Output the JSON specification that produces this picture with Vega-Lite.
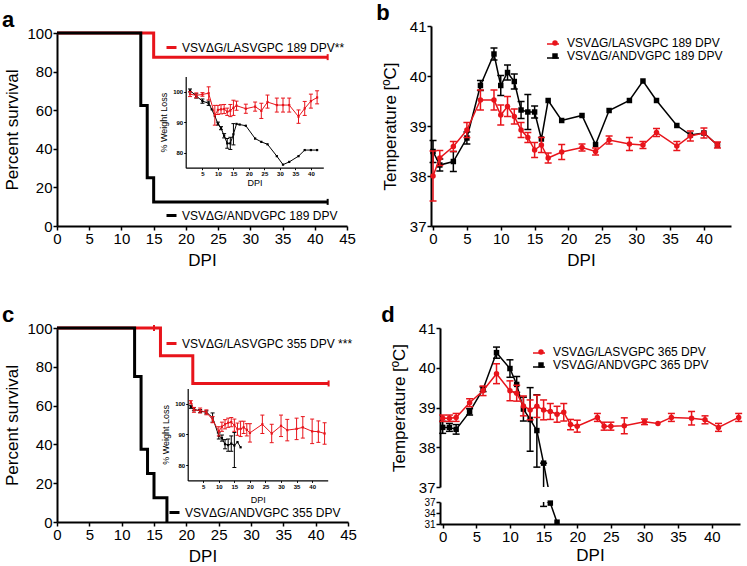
{
  "$schema": "https://vega.github.io/schema/vega-lite/v6.json",
  "padding": {"left": 1, "top": 2, "right": 0, "bottom": 0},
  "background": "white",
  "config": {
    "font": "Liberation Sans",
    "view": {"stroke": null},
    "axis": {"grid": false, "domainColor": "black", "domainWidth": 2, "tickColor": "black", "tickWidth": 1.5, "tickSize": 4, "labelColor": "black", "titleColor": "black", "labelFontSize": 15, "titleFontSize": 17, "titleFontWeight": "normal", "labelFont": "Liberation Sans", "titleFont": "Liberation Sans", "labelPadding": 1, "labelFlush": false, "labelOverlap": false},
    "title": {"font": "Liberation Sans", "fontSize": 22, "fontWeight": "bold", "color": "black", "anchor": "start", "frame": "bounds"},
    "legend": {"labelFont": "Liberation Sans", "labelFontSize": 12, "labelColor": "black", "labelLimit": 0}
  },
  "datasets": {
    "survA": [
      {"virus": "LAS", "series": "VSVΔG/LASVGPC 189 DPV**", "day": 0, "pct": 100},
      {"virus": "LAS", "series": "VSVΔG/LASVGPC 189 DPV**", "day": 15, "pct": 87.5},
      {"virus": "LAS", "series": "VSVΔG/LASVGPC 189 DPV**", "day": 42, "pct": 87.5},
      {"virus": "AND", "series": "VSVΔG/ANDVGPC 189 DPV", "day": 0, "pct": 100},
      {"virus": "AND", "series": "VSVΔG/ANDVGPC 189 DPV", "day": 13, "pct": 62.5},
      {"virus": "AND", "series": "VSVΔG/ANDVGPC 189 DPV", "day": 14, "pct": 25},
      {"virus": "AND", "series": "VSVΔG/ANDVGPC 189 DPV", "day": 15, "pct": 12.5},
      {"virus": "AND", "series": "VSVΔG/ANDVGPC 189 DPV", "day": 42, "pct": 12.5}
    ],
    "censA": [
      {"virus": "LAS", "day": 42, "pct": 87.5},
      {"virus": "AND", "day": 42, "pct": 12.5}
    ],
    "survC": [
      {"virus": "LAS", "series": "VSVΔG/LASVGPC 355 DPV ***", "day": 0, "pct": 100},
      {"virus": "LAS", "series": "VSVΔG/LASVGPC 355 DPV ***", "day": 16, "pct": 85.7},
      {"virus": "LAS", "series": "VSVΔG/LASVGPC 355 DPV ***", "day": 21, "pct": 71.4},
      {"virus": "LAS", "series": "VSVΔG/LASVGPC 355 DPV ***", "day": 42, "pct": 71.4},
      {"virus": "AND", "series": "VSVΔG/ANDVGPC 355 DPV", "day": 0, "pct": 100},
      {"virus": "AND", "series": "VSVΔG/ANDVGPC 355 DPV", "day": 12, "pct": 75},
      {"virus": "AND", "series": "VSVΔG/ANDVGPC 355 DPV", "day": 13, "pct": 37.5},
      {"virus": "AND", "series": "VSVΔG/ANDVGPC 355 DPV", "day": 14, "pct": 25},
      {"virus": "AND", "series": "VSVΔG/ANDVGPC 355 DPV", "day": 15, "pct": 12.5},
      {"virus": "AND", "series": "VSVΔG/ANDVGPC 355 DPV", "day": 17, "pct": 0}
    ],
    "censC": [
      {"virus": "LAS", "day": 15, "pct": 100},
      {"virus": "LAS", "day": 42, "pct": 71.4}
    ],
    "wA": [
      {"virus": "AND", "day": 1, "wl": 100.4, "lo": 99.9, "hi": 100.9},
      {"virus": "AND", "day": 3, "wl": 98.6, "lo": 97.9, "hi": 99.3},
      {"virus": "AND", "day": 5, "wl": 96.9, "lo": 96.2, "hi": 97.6},
      {"virus": "AND", "day": 7, "wl": 96.2, "lo": 95.5, "hi": 96.9},
      {"virus": "AND", "day": 8, "wl": 94.2},
      {"virus": "AND", "day": 9, "wl": 92},
      {"virus": "AND", "day": 10, "wl": 89.5, "lo": 89, "hi": 90},
      {"virus": "AND", "day": 11, "wl": 88, "lo": 87.5, "hi": 88.5},
      {"virus": "AND", "day": 12, "wl": 85.5, "lo": 84.8, "hi": 86.2},
      {"virus": "AND", "day": 13, "wl": 83, "lo": 81.4, "hi": 84.6},
      {"virus": "AND", "day": 14, "wl": 83, "lo": 81, "hi": 85},
      {"virus": "AND", "day": 15, "wl": 86, "lo": 82.5, "hi": 89.5},
      {"virus": "AND", "day": 16, "wl": 89.4},
      {"virus": "AND", "day": 17, "wl": 89.2},
      {"virus": "AND", "day": 19, "wl": 88.8},
      {"virus": "AND", "day": 22, "wl": 84.6},
      {"virus": "AND", "day": 24, "wl": 83.5},
      {"virus": "AND", "day": 26, "wl": 82.7},
      {"virus": "AND", "day": 29, "wl": 78.8},
      {"virus": "AND", "day": 31, "wl": 76},
      {"virus": "AND", "day": 33, "wl": 76.9},
      {"virus": "AND", "day": 36, "wl": 78.8},
      {"virus": "AND", "day": 38, "wl": 80.8},
      {"virus": "AND", "day": 40, "wl": 80.8},
      {"virus": "AND", "day": 42, "wl": 80.8},
      {"virus": "LAS", "day": 1, "wl": 99.2, "lo": 98.4, "hi": 100},
      {"virus": "LAS", "day": 3, "wl": 98.8, "lo": 98, "hi": 99.6},
      {"virus": "LAS", "day": 5, "wl": 99.1, "lo": 98.5, "hi": 99.7},
      {"virus": "LAS", "day": 7, "wl": 99.5, "lo": 97.3, "hi": 101.6},
      {"virus": "LAS", "day": 9, "wl": 92.3, "lo": 89, "hi": 95.5},
      {"virus": "LAS", "day": 10, "wl": 94, "lo": 92.5, "hi": 95.5},
      {"virus": "LAS", "day": 11, "wl": 94.2, "lo": 92.7, "hi": 95.7},
      {"virus": "LAS", "day": 12, "wl": 94.3, "lo": 92.8, "hi": 95.8},
      {"virus": "LAS", "day": 13, "wl": 93.4, "lo": 92.2, "hi": 94.6},
      {"virus": "LAS", "day": 14, "wl": 93.8, "lo": 91.8, "hi": 95.8},
      {"virus": "LAS", "day": 15, "wl": 94.7, "lo": 92.2, "hi": 97.2},
      {"virus": "LAS", "day": 16, "wl": 95.4, "lo": 93.9, "hi": 96.9},
      {"virus": "LAS", "day": 19, "wl": 94.4, "lo": 92.9, "hi": 95.9},
      {"virus": "LAS", "day": 22, "wl": 95.1, "lo": 93.6, "hi": 96.6},
      {"virus": "LAS", "day": 24, "wl": 93.7, "lo": 91.2, "hi": 96.2},
      {"virus": "LAS", "day": 26, "wl": 96.6, "lo": 94.6, "hi": 98.9},
      {"virus": "LAS", "day": 29, "wl": 95.6, "lo": 93.3, "hi": 97.9},
      {"virus": "LAS", "day": 31, "wl": 95.6, "lo": 93.3, "hi": 97.9},
      {"virus": "LAS", "day": 33, "wl": 95.6, "lo": 93.3, "hi": 97.9},
      {"virus": "LAS", "day": 36, "wl": 91.8, "lo": 89.6, "hi": 94},
      {"virus": "LAS", "day": 38, "wl": 94.5, "lo": 92.2, "hi": 96.8},
      {"virus": "LAS", "day": 40, "wl": 96.9, "lo": 94.6, "hi": 99.2},
      {"virus": "LAS", "day": 42, "wl": 98.1, "lo": 96, "hi": 100.3}
    ],
    "wC": [
      {"virus": "AND", "day": 1, "wl": 99, "lo": 98.5, "hi": 99.5},
      {"virus": "AND", "day": 2, "wl": 98.2, "lo": 97.7, "hi": 98.7},
      {"virus": "AND", "day": 4, "wl": 97.6, "lo": 97.1, "hi": 98.1},
      {"virus": "AND", "day": 6, "wl": 97.2, "lo": 96.7, "hi": 97.7},
      {"virus": "AND", "day": 8, "wl": 95.5, "lo": 94, "hi": 97},
      {"virus": "AND", "day": 10, "wl": 89.5, "lo": 88.5, "hi": 90.5},
      {"virus": "AND", "day": 11, "wl": 88.8, "lo": 87.8, "hi": 89.8},
      {"virus": "AND", "day": 12, "wl": 86.8, "lo": 85.3, "hi": 88.3},
      {"virus": "AND", "day": 13, "wl": 86.5, "lo": 84.5, "hi": 88.5},
      {"virus": "AND", "day": 14, "wl": 87, "lo": 84.5, "hi": 89.5},
      {"virus": "AND", "day": 15, "wl": 86.4, "lo": 79.2, "hi": 90.6},
      {"virus": "AND", "day": 16, "wl": 87.5},
      {"virus": "AND", "day": 17, "wl": 85.8},
      {"virus": "LAS", "day": 1, "wl": 100.5, "lo": 100, "hi": 101},
      {"virus": "LAS", "day": 2, "wl": 98, "lo": 97.2, "hi": 98.8},
      {"virus": "LAS", "day": 4, "wl": 97.8, "lo": 97, "hi": 98.6},
      {"virus": "LAS", "day": 6, "wl": 97.2, "lo": 96.4, "hi": 98},
      {"virus": "LAS", "day": 8, "wl": 94.8, "lo": 93.8, "hi": 95.8},
      {"virus": "LAS", "day": 10, "wl": 91, "lo": 89.5, "hi": 92.5},
      {"virus": "LAS", "day": 11, "wl": 92.5, "lo": 91, "hi": 94},
      {"virus": "LAS", "day": 12, "wl": 93.3, "lo": 91.8, "hi": 94.8},
      {"virus": "LAS", "day": 13, "wl": 93.8, "lo": 92.3, "hi": 95.3},
      {"virus": "LAS", "day": 14, "wl": 94, "lo": 92.5, "hi": 95.5},
      {"virus": "LAS", "day": 15, "wl": 93, "lo": 91, "hi": 95},
      {"virus": "LAS", "day": 16, "wl": 91.7, "lo": 89.7, "hi": 93.7},
      {"virus": "LAS", "day": 17, "wl": 91.8, "lo": 89.3, "hi": 94.3},
      {"virus": "LAS", "day": 18, "wl": 92.3, "lo": 90.3, "hi": 94.3},
      {"virus": "LAS", "day": 19, "wl": 91.5, "lo": 89.5, "hi": 93.5},
      {"virus": "LAS", "day": 20, "wl": 90.5, "lo": 87.5, "hi": 93.5},
      {"virus": "LAS", "day": 24, "wl": 93.3, "lo": 90.3, "hi": 96.3},
      {"virus": "LAS", "day": 27, "wl": 90.3, "lo": 87.3, "hi": 93.3},
      {"virus": "LAS", "day": 30, "wl": 92.8, "lo": 89.3, "hi": 96.3},
      {"virus": "LAS", "day": 32, "wl": 91.4, "lo": 87.9, "hi": 94.9},
      {"virus": "LAS", "day": 35, "wl": 91.8, "lo": 88.3, "hi": 95.3},
      {"virus": "LAS", "day": 37, "wl": 92.3, "lo": 88.8, "hi": 95.8},
      {"virus": "LAS", "day": 40, "wl": 91, "lo": 87, "hi": 95},
      {"virus": "LAS", "day": 42, "wl": 90.9, "lo": 87.4, "hi": 94.4},
      {"virus": "LAS", "day": 44, "wl": 90.3, "lo": 86.8, "hi": 93.8}
    ],
    "tB": [
      {"virus": "AND", "series": "VSVΔG/ANDVGPC 189 DPV", "day": 0, "t": 38.49, "lo": 38.27, "hi": 38.71},
      {"virus": "AND", "series": "VSVΔG/ANDVGPC 189 DPV", "day": 1, "t": 38.22, "lo": 38.1, "hi": 38.34},
      {"virus": "AND", "series": "VSVΔG/ANDVGPC 189 DPV", "day": 3, "t": 38.29, "lo": 38.09, "hi": 38.49},
      {"virus": "AND", "series": "VSVΔG/ANDVGPC 189 DPV", "day": 5, "t": 38.76, "lo": 38.64, "hi": 38.88},
      {"virus": "AND", "series": "VSVΔG/ANDVGPC 189 DPV", "day": 7, "t": 39.81, "lo": 39.71, "hi": 39.91},
      {"virus": "AND", "series": "VSVΔG/ANDVGPC 189 DPV", "day": 9, "t": 40.44, "lo": 40.32, "hi": 40.56},
      {"virus": "AND", "series": "VSVΔG/ANDVGPC 189 DPV", "day": 10, "t": 39.81, "lo": 39.61, "hi": 40.01},
      {"virus": "AND", "series": "VSVΔG/ANDVGPC 189 DPV", "day": 11, "t": 40.07, "lo": 39.92, "hi": 40.22},
      {"virus": "AND", "series": "VSVΔG/ANDVGPC 189 DPV", "day": 12, "t": 39.89, "lo": 39.74, "hi": 40.04},
      {"virus": "AND", "series": "VSVΔG/ANDVGPC 189 DPV", "day": 13, "t": 39.32, "lo": 39.15, "hi": 39.49},
      {"virus": "AND", "series": "VSVΔG/ANDVGPC 189 DPV", "day": 14, "t": 39.28, "lo": 38.93, "hi": 39.63},
      {"virus": "AND", "series": "VSVΔG/ANDVGPC 189 DPV", "day": 15, "t": 39.28, "lo": 39.16, "hi": 39.4},
      {"virus": "AND", "series": "VSVΔG/ANDVGPC 189 DPV", "day": 16, "t": 38.74},
      {"virus": "AND", "series": "VSVΔG/ANDVGPC 189 DPV", "day": 17, "t": 39.51},
      {"virus": "AND", "series": "VSVΔG/ANDVGPC 189 DPV", "day": 19, "t": 39.11},
      {"virus": "AND", "series": "VSVΔG/ANDVGPC 189 DPV", "day": 22, "t": 39.21},
      {"virus": "AND", "series": "VSVΔG/ANDVGPC 189 DPV", "day": 24, "t": 38.63},
      {"virus": "AND", "series": "VSVΔG/ANDVGPC 189 DPV", "day": 26, "t": 39.31},
      {"virus": "AND", "series": "VSVΔG/ANDVGPC 189 DPV", "day": 29, "t": 39.51},
      {"virus": "AND", "series": "VSVΔG/ANDVGPC 189 DPV", "day": 31, "t": 39.9},
      {"virus": "AND", "series": "VSVΔG/ANDVGPC 189 DPV", "day": 33, "t": 39.51},
      {"virus": "AND", "series": "VSVΔG/ANDVGPC 189 DPV", "day": 36, "t": 39.01},
      {"virus": "AND", "series": "VSVΔG/ANDVGPC 189 DPV", "day": 38, "t": 38.82},
      {"virus": "AND", "series": "VSVΔG/ANDVGPC 189 DPV", "day": 40, "t": 38.86},
      {"virus": "AND", "series": "VSVΔG/ANDVGPC 189 DPV", "day": 42, "t": 38.62},
      {"virus": "LAS", "series": "VSVΔG/LASVGPC 189 DPV", "day": 0, "t": 38.0, "lo": 37.5, "hi": 38.5},
      {"virus": "LAS", "series": "VSVΔG/LASVGPC 189 DPV", "day": 1, "t": 38.36, "lo": 38.21, "hi": 38.51},
      {"virus": "LAS", "series": "VSVΔG/LASVGPC 189 DPV", "day": 3, "t": 38.59, "lo": 38.49, "hi": 38.69},
      {"virus": "LAS", "series": "VSVΔG/LASVGPC 189 DPV", "day": 5, "t": 38.92, "lo": 38.77, "hi": 39.07},
      {"virus": "LAS", "series": "VSVΔG/LASVGPC 189 DPV", "day": 7, "t": 39.52, "lo": 39.32, "hi": 39.72},
      {"virus": "LAS", "series": "VSVΔG/LASVGPC 189 DPV", "day": 9, "t": 39.52, "lo": 39.32, "hi": 39.72},
      {"virus": "LAS", "series": "VSVΔG/LASVGPC 189 DPV", "day": 10, "t": 39.22, "lo": 39.02, "hi": 39.42},
      {"virus": "LAS", "series": "VSVΔG/LASVGPC 189 DPV", "day": 11, "t": 39.39, "lo": 39.19, "hi": 39.59},
      {"virus": "LAS", "series": "VSVΔG/LASVGPC 189 DPV", "day": 12, "t": 39.19, "lo": 39.04, "hi": 39.34},
      {"virus": "LAS", "series": "VSVΔG/LASVGPC 189 DPV", "day": 13, "t": 38.92, "lo": 38.77, "hi": 39.07},
      {"virus": "LAS", "series": "VSVΔG/LASVGPC 189 DPV", "day": 14, "t": 38.77, "lo": 38.67, "hi": 38.87},
      {"virus": "LAS", "series": "VSVΔG/LASVGPC 189 DPV", "day": 15, "t": 38.52, "lo": 38.37, "hi": 38.67},
      {"virus": "LAS", "series": "VSVΔG/LASVGPC 189 DPV", "day": 16, "t": 38.62, "lo": 38.47, "hi": 38.77},
      {"virus": "LAS", "series": "VSVΔG/LASVGPC 189 DPV", "day": 17, "t": 38.36, "lo": 38.26, "hi": 38.46},
      {"virus": "LAS", "series": "VSVΔG/LASVGPC 189 DPV", "day": 19, "t": 38.48, "lo": 38.33, "hi": 38.63},
      {"virus": "LAS", "series": "VSVΔG/LASVGPC 189 DPV", "day": 22, "t": 38.57, "lo": 38.5, "hi": 38.64},
      {"virus": "LAS", "series": "VSVΔG/LASVGPC 189 DPV", "day": 24, "t": 38.49, "lo": 38.42, "hi": 38.56},
      {"virus": "LAS", "series": "VSVΔG/LASVGPC 189 DPV", "day": 26, "t": 38.72, "lo": 38.64, "hi": 38.8},
      {"virus": "LAS", "series": "VSVΔG/LASVGPC 189 DPV", "day": 29, "t": 38.64, "lo": 38.51, "hi": 38.77},
      {"virus": "LAS", "series": "VSVΔG/LASVGPC 189 DPV", "day": 31, "t": 38.62, "lo": 38.55, "hi": 38.69},
      {"virus": "LAS", "series": "VSVΔG/LASVGPC 189 DPV", "day": 33, "t": 38.87, "lo": 38.79, "hi": 38.95},
      {"virus": "LAS", "series": "VSVΔG/LASVGPC 189 DPV", "day": 36, "t": 38.6, "lo": 38.51, "hi": 38.69},
      {"virus": "LAS", "series": "VSVΔG/LASVGPC 189 DPV", "day": 38, "t": 38.8, "lo": 38.7, "hi": 38.9},
      {"virus": "LAS", "series": "VSVΔG/LASVGPC 189 DPV", "day": 40, "t": 38.86, "lo": 38.76, "hi": 38.96},
      {"virus": "LAS", "series": "VSVΔG/LASVGPC 189 DPV", "day": 42, "t": 38.62, "lo": 38.56, "hi": 38.68}
    ],
    "tD": [
      {"virus": "AND", "series": "VSVΔG/ANDVGPC 365 DPV", "day": 0, "t": 38.5, "lo": 38.35, "hi": 38.65},
      {"virus": "AND", "series": "VSVΔG/ANDVGPC 365 DPV", "day": 1, "t": 38.5, "lo": 38.4, "hi": 38.6},
      {"virus": "AND", "series": "VSVΔG/ANDVGPC 365 DPV", "day": 2, "t": 38.45, "lo": 38.33, "hi": 38.57},
      {"virus": "AND", "series": "VSVΔG/ANDVGPC 365 DPV", "day": 4, "t": 38.89, "lo": 38.81, "hi": 38.97},
      {"virus": "AND", "series": "VSVΔG/ANDVGPC 365 DPV", "day": 6, "t": 39.46, "lo": 39.4, "hi": 39.52},
      {"virus": "AND", "series": "VSVΔG/ANDVGPC 365 DPV", "day": 8, "t": 40.38, "lo": 40.24, "hi": 40.52},
      {"virus": "AND", "series": "VSVΔG/ANDVGPC 365 DPV", "day": 10, "t": 39.98, "lo": 39.76, "hi": 40.2},
      {"virus": "AND", "series": "VSVΔG/ANDVGPC 365 DPV", "day": 11, "t": 39.58, "lo": 39.38, "hi": 39.78},
      {"virus": "AND", "series": "VSVΔG/ANDVGPC 365 DPV", "day": 12, "t": 38.96, "lo": 38.66, "hi": 39.26},
      {"virus": "AND", "series": "VSVΔG/ANDVGPC 365 DPV", "day": 13, "t": 38.7, "lo": 37.9, "hi": 39.5},
      {"virus": "AND", "series": "VSVΔG/ANDVGPC 365 DPV", "day": 14, "t": 38.42, "lo": 37.5, "hi": 39.32},
      {"virus": "AND", "series": "VSVΔG/ANDVGPC 365 DPV", "day": 15, "t": 37.6, "lo": 35.8, "hi": 37.6},
      {"virus": "AND", "series": "VSVΔG/ANDVGPC 365 DPV", "day": 16, "t": 36.7},
      {"virus": "AND", "series": "VSVΔG/ANDVGPC 365 DPV", "day": 17, "t": 31.5},
      {"virus": "LAS", "series": "VSVΔG/LASVGPC 365 DPV", "day": 0, "t": 38.73, "lo": 38.65, "hi": 38.81},
      {"virus": "LAS", "series": "VSVΔG/LASVGPC 365 DPV", "day": 1, "t": 38.73, "lo": 38.65, "hi": 38.81},
      {"virus": "LAS", "series": "VSVΔG/LASVGPC 365 DPV", "day": 2, "t": 38.75, "lo": 38.65, "hi": 38.85},
      {"virus": "LAS", "series": "VSVΔG/LASVGPC 365 DPV", "day": 4, "t": 39.12, "lo": 39.02, "hi": 39.22},
      {"virus": "LAS", "series": "VSVΔG/LASVGPC 365 DPV", "day": 6, "t": 39.42, "lo": 39.3, "hi": 39.54},
      {"virus": "LAS", "series": "VSVΔG/LASVGPC 365 DPV", "day": 8, "t": 39.85, "lo": 39.6, "hi": 40.1},
      {"virus": "LAS", "series": "VSVΔG/LASVGPC 365 DPV", "day": 10, "t": 39.42, "lo": 39.17, "hi": 39.67},
      {"virus": "LAS", "series": "VSVΔG/LASVGPC 365 DPV", "day": 11, "t": 39.36, "lo": 39.16, "hi": 39.56},
      {"virus": "LAS", "series": "VSVΔG/LASVGPC 365 DPV", "day": 12, "t": 39.04, "lo": 38.79, "hi": 39.29},
      {"virus": "LAS", "series": "VSVΔG/LASVGPC 365 DPV", "day": 13, "t": 38.94, "lo": 38.69, "hi": 39.19},
      {"virus": "LAS", "series": "VSVΔG/LASVGPC 365 DPV", "day": 14, "t": 39.03, "lo": 38.75, "hi": 39.31},
      {"virus": "LAS", "series": "VSVΔG/LASVGPC 365 DPV", "day": 15, "t": 38.94, "lo": 38.69, "hi": 39.19},
      {"virus": "LAS", "series": "VSVΔG/LASVGPC 365 DPV", "day": 16, "t": 38.9, "lo": 38.7, "hi": 39.1},
      {"virus": "LAS", "series": "VSVΔG/LASVGPC 365 DPV", "day": 17, "t": 38.83, "lo": 38.63, "hi": 39.03},
      {"virus": "LAS", "series": "VSVΔG/LASVGPC 365 DPV", "day": 18, "t": 38.88, "lo": 38.66, "hi": 39.1},
      {"virus": "LAS", "series": "VSVΔG/LASVGPC 365 DPV", "day": 19, "t": 38.57, "lo": 38.44, "hi": 38.7},
      {"virus": "LAS", "series": "VSVΔG/LASVGPC 365 DPV", "day": 20, "t": 38.53, "lo": 38.38, "hi": 38.68},
      {"virus": "LAS", "series": "VSVΔG/LASVGPC 365 DPV", "day": 23, "t": 38.75, "lo": 38.65, "hi": 38.85},
      {"virus": "LAS", "series": "VSVΔG/LASVGPC 365 DPV", "day": 24, "t": 38.53, "lo": 38.43, "hi": 38.63},
      {"virus": "LAS", "series": "VSVΔG/LASVGPC 365 DPV", "day": 25, "t": 38.53, "lo": 38.43, "hi": 38.63},
      {"virus": "LAS", "series": "VSVΔG/LASVGPC 365 DPV", "day": 27, "t": 38.54, "lo": 38.34, "hi": 38.74},
      {"virus": "LAS", "series": "VSVΔG/LASVGPC 365 DPV", "day": 30, "t": 38.64, "lo": 38.57, "hi": 38.71},
      {"virus": "LAS", "series": "VSVΔG/LASVGPC 365 DPV", "day": 32, "t": 38.6},
      {"virus": "LAS", "series": "VSVΔG/LASVGPC 365 DPV", "day": 34, "t": 38.75, "lo": 38.65, "hi": 38.85},
      {"virus": "LAS", "series": "VSVΔG/LASVGPC 365 DPV", "day": 37, "t": 38.73, "lo": 38.56, "hi": 38.9},
      {"virus": "LAS", "series": "VSVΔG/LASVGPC 365 DPV", "day": 39, "t": 38.69, "lo": 38.59, "hi": 38.79},
      {"virus": "LAS", "series": "VSVΔG/LASVGPC 365 DPV", "day": 41, "t": 38.5, "lo": 38.4, "hi": 38.6},
      {"virus": "LAS", "series": "VSVΔG/LASVGPC 365 DPV", "day": 44, "t": 38.75, "lo": 38.65, "hi": 38.85}
    ]
  },
  "spacing": 36,
  "resolve": {"scale": {"color": "independent", "stroke": "independent", "shape": "independent"}, "legend": {"color": "independent", "stroke": "independent", "shape": "independent"}},
  "vconcat": [
    {
      "hconcat": [
        {
          "width": 290, "height": 200,
          "title": {"text": "a", "offset": -6, "dx": -2},
          "resolve": {"scale": {"x": "independent", "y": "independent"}},
          "layer": [
            {
              "data": {"name": "survA"},
              "encoding": {
                "x": {"field": "day", "type": "quantitative", "scale": {"domain": [0, 45], "nice": false, "zero": false}, "axis": {"values": [0, 5, 10, 15, 20, 25, 30, 35, 40, 45], "title": "DPI", "titlePadding": 6}},
                "y": {"field": "pct", "type": "quantitative", "scale": {"domain": [0, 100], "range": [200, 7], "nice": false}, "axis": {"values": [0, 20, 40, 60, 80, 100], "title": "Percent survival", "titlePadding": 5}}
              },
              "layer": [
                {"transform": [{"filter": "datum.virus == 'LAS'"}], "mark": {"type": "line", "interpolate": "step-after", "strokeWidth": 3},
                 "encoding": {"color": {"field": "series", "type": "nominal", "scale": {"range": ["#e8141b"]},
                   "legend": {"orient": "none", "legendX": 108, "legendY": 15, "title": null, "symbolType": "stroke", "symbolSize": 100, "symbolStrokeWidth": 3, "labelOffset": 4}}}},
                {"transform": [{"filter": "datum.virus == 'AND'"}], "mark": {"type": "line", "interpolate": "step-after", "strokeWidth": 3},
                 "encoding": {"stroke": {"field": "series", "type": "nominal", "scale": {"range": ["black"]},
                   "legend": {"orient": "none", "legendX": 108, "legendY": 183, "title": null, "symbolType": "stroke", "symbolSize": 100, "symbolStrokeWidth": 3, "labelOffset": 4}}}},
                {"data": {"name": "censA"}, "mark": {"type": "tick", "orient": "vertical", "size": 6, "thickness": 2, "opacity": 1},
                 "encoding": {"color": {"condition": {"test": "datum.virus == 'LAS'", "value": "#e8141b"}, "value": "black"}}}
              ]
            },
            {
              "data": {"name": "wA"},
              "encoding": {
                "x": {"field": "day", "type": "quantitative", "scale": {"domain": [-0.4, 44], "range": [128.7, 266.3], "nice": false, "zero": false},
                  "axis": {"orient": "bottom", "offset": -58.3, "values": [5, 10, 15, 20, 25, 30, 35, 40], "title": "DPI", "titleFontSize": 9, "titlePadding": 2, "labelFontSize": 6, "labelFontWeight": "bold", "tickSize": 2, "tickWidth": 1, "domainWidth": 1.2, "labelPadding": 1}},
                "y": {"field": "wl", "type": "quantitative", "title": "% Weight Loss", "scale": {"domain": [75, 105], "range": [141.7, 50.5], "nice": false, "zero": false},
                  "axis": {"orient": "left", "offset": -128.7, "values": [80, 90, 100], "title": "% Weight Loss", "titleFontSize": 9, "titlePadding": 4, "labelFontSize": 6, "labelFontWeight": "bold", "tickSize": 2, "tickWidth": 1, "domainWidth": 1.2, "labelPadding": 1}}
              },
              "layer": [
                {"transform": [{"filter": "datum.virus == 'AND'"}], "mark": {"type": "line", "strokeWidth": 1, "color": "black"}, "encoding": {}},
                {"transform": [{"filter": "datum.virus == 'AND' && isValid(datum.lo)"}], "mark": {"type": "rule", "strokeWidth": 1, "color": "black"},
                 "encoding": {"y": {"field": "lo", "type": "quantitative", "title": "% Weight Loss", "scale": {"domain": [75, 105], "range": [141.7, 50.5], "nice": false, "zero": false}}, "y2": {"field": "hi"}}},
                {"transform": [{"filter": "datum.virus == 'AND' && isValid(datum.lo)"}], "mark": {"type": "tick", "orient": "horizontal", "size": 4, "thickness": 1, "color": "black", "opacity": 1},
                 "encoding": {"y": {"field": "lo", "type": "quantitative", "title": "% Weight Loss", "scale": {"domain": [75, 105], "range": [141.7, 50.5], "nice": false, "zero": false}}}},
                {"transform": [{"filter": "datum.virus == 'AND' && isValid(datum.lo)"}], "mark": {"type": "tick", "orient": "horizontal", "size": 4, "thickness": 1, "color": "black", "opacity": 1},
                 "encoding": {"y": {"field": "hi", "type": "quantitative", "title": "% Weight Loss", "scale": {"domain": [75, 105], "range": [141.7, 50.5], "nice": false, "zero": false}}}},
                {"transform": [{"filter": "datum.virus == 'AND'"}], "mark": {"type": "point", "shape": "square", "filled": true, "size": 5, "opacity": 1, "color": "black"}},
                {"transform": [{"filter": "datum.virus == 'LAS'"}], "mark": {"type": "line", "strokeWidth": 1, "color": "#e8141b"}, "encoding": {}},
                {"transform": [{"filter": "datum.virus == 'LAS' && isValid(datum.lo)"}], "mark": {"type": "rule", "strokeWidth": 1, "color": "#e8141b"},
                 "encoding": {"y": {"field": "lo", "type": "quantitative", "title": "% Weight Loss", "scale": {"domain": [75, 105], "range": [141.7, 50.5], "nice": false, "zero": false}}, "y2": {"field": "hi"}}},
                {"transform": [{"filter": "datum.virus == 'LAS' && isValid(datum.lo)"}], "mark": {"type": "tick", "orient": "horizontal", "size": 4, "thickness": 1, "color": "#e8141b", "opacity": 1},
                 "encoding": {"y": {"field": "lo", "type": "quantitative", "title": "% Weight Loss", "scale": {"domain": [75, 105], "range": [141.7, 50.5], "nice": false, "zero": false}}}},
                {"transform": [{"filter": "datum.virus == 'LAS' && isValid(datum.lo)"}], "mark": {"type": "tick", "orient": "horizontal", "size": 4, "thickness": 1, "color": "#e8141b", "opacity": 1},
                 "encoding": {"y": {"field": "hi", "type": "quantitative", "title": "% Weight Loss", "scale": {"domain": [75, 105], "range": [141.7, 50.5], "nice": false, "zero": false}}}},
                {"transform": [{"filter": "datum.virus == 'LAS'"}], "mark": {"type": "point", "shape": "square", "filled": true, "size": 5, "opacity": 1, "color": "#e8141b"}}
              ]
            }
          ]
        },
        {
          "width": 300, "height": 200,
          "title": {"text": "b", "offset": -6, "dx": -5},
          "data": {"name": "tB"},
          "encoding": {
            "x": {"field": "day", "type": "quantitative", "scale": {"domain": [-0.3, 44], "nice": false, "zero": false}, "axis": {"values": [0, 5, 10, 15, 20, 25, 30, 35, 40], "title": "DPI", "titlePadding": 6}},
            "y": {"field": "t", "type": "quantitative", "title": "Temperature [ºC]", "scale": {"domain": [37, 41], "nice": false, "zero": false}, "axis": {"values": [37, 38, 39, 40, 41], "titlePadding": 10}}
          },
          "layer": [
            {"transform": [{"filter": "datum.virus == 'AND'"}], "mark": {"type": "line", "strokeWidth": 1.5},
             "encoding": {"stroke": {"field": "virus", "type": "nominal", "scale": {"domain": ["LAS", "AND"], "range": ["#e8141b", "black"]}}}},
            {"transform": [{"filter": "datum.virus == 'AND' && isValid(datum.lo)"}], "mark": {"type": "rule", "strokeWidth": 1.5, "color": "black"},
             "encoding": {"y": {"field": "lo", "type": "quantitative", "title": "Temperature [ºC]", "scale": {"domain": [37, 41], "nice": false, "zero": false}}, "y2": {"field": "hi"}}},
            {"transform": [{"filter": "datum.virus == 'AND' && isValid(datum.lo)"}], "mark": {"type": "tick", "orient": "horizontal", "size": 7, "thickness": 1.5, "color": "black", "opacity": 1},
             "encoding": {"y": {"field": "lo", "type": "quantitative", "title": "Temperature [ºC]", "scale": {"domain": [37, 41], "nice": false, "zero": false}}}},
            {"transform": [{"filter": "datum.virus == 'AND' && isValid(datum.lo)"}], "mark": {"type": "tick", "orient": "horizontal", "size": 7, "thickness": 1.5, "color": "black", "opacity": 1},
             "encoding": {"y": {"field": "hi", "type": "quantitative", "title": "Temperature [ºC]", "scale": {"domain": [37, 41], "nice": false, "zero": false}}}},
            {"transform": [{"filter": "datum.virus == 'AND'"}], "mark": {"type": "point", "filled": true, "size": 30, "opacity": 1},
             "encoding": {
               "color": {"field": "series", "type": "nominal", "scale": {"domain": ["VSVΔG/LASVGPC 189 DPV", "VSVΔG/ANDVGPC 189 DPV"], "range": ["#e8141b", "black"]}},
               "shape": {"field": "series", "type": "nominal", "scale": {"domain": ["VSVΔG/LASVGPC 189 DPV", "VSVΔG/ANDVGPC 189 DPV"], "range": ["circle", "square"]}}}},
            {"transform": [{"filter": "datum.virus == 'LAS'"}], "mark": {"type": "line", "strokeWidth": 1.5},
             "encoding": {"stroke": {"field": "virus", "type": "nominal", "scale": {"domain": ["LAS", "AND"], "range": ["#e8141b", "black"]},
               "legend": {"orient": "none", "legendX": 115, "legendY": 11, "title": null, "symbolType": "stroke", "symbolSize": 144, "symbolStrokeWidth": 1.5, "labelOffset": 6, "rowPadding": 1, "labelExpr": "' '"}}}},
            {"transform": [{"filter": "datum.virus == 'LAS' && isValid(datum.lo)"}], "mark": {"type": "rule", "strokeWidth": 1.5, "color": "#e8141b"},
             "encoding": {"y": {"field": "lo", "type": "quantitative", "title": "Temperature [ºC]", "scale": {"domain": [37, 41], "nice": false, "zero": false}}, "y2": {"field": "hi"}}},
            {"transform": [{"filter": "datum.virus == 'LAS' && isValid(datum.lo)"}], "mark": {"type": "tick", "orient": "horizontal", "size": 7, "thickness": 1.5, "color": "#e8141b", "opacity": 1},
             "encoding": {"y": {"field": "lo", "type": "quantitative", "title": "Temperature [ºC]", "scale": {"domain": [37, 41], "nice": false, "zero": false}}}},
            {"transform": [{"filter": "datum.virus == 'LAS' && isValid(datum.lo)"}], "mark": {"type": "tick", "orient": "horizontal", "size": 7, "thickness": 1.5, "color": "#e8141b", "opacity": 1},
             "encoding": {"y": {"field": "hi", "type": "quantitative", "title": "Temperature [ºC]", "scale": {"domain": [37, 41], "nice": false, "zero": false}}}},
            {"transform": [{"filter": "datum.virus == 'LAS'"}], "mark": {"type": "point", "filled": true, "size": 30, "opacity": 1},
             "encoding": {
               "color": {"field": "series", "type": "nominal", "scale": {"domain": ["VSVΔG/LASVGPC 189 DPV", "VSVΔG/ANDVGPC 189 DPV"], "range": ["#e8141b", "black"]},
                 "legend": {"orient": "none", "legendX": 118, "legendY": 11, "title": null, "symbolSize": 30, "labelOffset": 6, "rowPadding": 1}},
               "shape": {"field": "series", "type": "nominal", "scale": {"domain": ["VSVΔG/LASVGPC 189 DPV", "VSVΔG/ANDVGPC 189 DPV"], "range": ["circle", "square"]},
                 "legend": {"orient": "none", "legendX": 118, "legendY": 11, "title": null, "symbolSize": 30, "labelOffset": 6, "rowPadding": 1}}}}
          ]
        }
      ],
      "spacing": 20,
      "resolve": {"scale": {"color": "independent", "stroke": "independent", "shape": "independent"}, "legend": {"color": "independent", "stroke": "independent", "shape": "independent"}}
    },
    {
      "hconcat": [
        {
          "width": 291, "height": 194,
          "title": {"text": "c", "offset": -6, "dx": -2},
          "resolve": {"scale": {"x": "independent", "y": "independent"}},
          "layer": [
            {
              "data": {"name": "survC"},
              "encoding": {
                "x": {"field": "day", "type": "quantitative", "scale": {"domain": [0, 45], "nice": false, "zero": false}, "axis": {"values": [0, 5, 10, 15, 20, 25, 30, 35, 40, 45], "title": "DPI", "titlePadding": 6}},
                "y": {"field": "pct", "type": "quantitative", "scale": {"domain": [0, 100], "nice": false}, "axis": {"values": [0, 20, 40, 60, 80, 100], "title": "Percent survival", "titlePadding": 5}}
              },
              "layer": [
                {"transform": [{"filter": "datum.virus == 'LAS'"}], "mark": {"type": "line", "interpolate": "step-after", "strokeWidth": 3},
                 "encoding": {"color": {"field": "series", "type": "nominal", "scale": {"range": ["#e8141b"]},
                   "legend": {"orient": "none", "legendX": 108, "legendY": 9, "title": null, "symbolType": "stroke", "symbolSize": 100, "symbolStrokeWidth": 3, "labelOffset": 4}}}},
                {"transform": [{"filter": "datum.virus == 'AND'"}], "mark": {"type": "line", "interpolate": "step-after", "strokeWidth": 3},
                 "encoding": {"stroke": {"field": "series", "type": "nominal", "scale": {"range": ["black"]},
                   "legend": {"orient": "none", "legendX": 111, "legendY": 178, "title": null, "symbolType": "stroke", "symbolSize": 100, "symbolStrokeWidth": 3, "labelOffset": 4}}}},
                {"data": {"name": "censC"}, "mark": {"type": "tick", "orient": "vertical", "size": 6, "thickness": 2, "opacity": 1, "color": "#e8141b"}}
              ]
            },
            {
              "data": {"name": "wC"},
              "encoding": {
                "x": {"field": "day", "type": "quantitative", "scale": {"domain": [0, 45], "range": [130.7, 270.7], "nice": false, "zero": false},
                  "axis": {"orient": "bottom", "offset": -41.6, "values": [5, 10, 15, 20, 25, 30, 35, 40], "title": "DPI", "titleFontSize": 9, "titlePadding": 6, "labelFontSize": 6, "labelFontWeight": "bold", "tickSize": 2, "tickWidth": 1, "domainWidth": 1.2, "labelPadding": 1}},
                "y": {"field": "wl", "type": "quantitative", "title": "% Weight Loss", "scale": {"domain": [75, 105], "range": [152.4, 60.4], "nice": false, "zero": false},
                  "axis": {"orient": "left", "offset": -130.7, "values": [80, 90, 100], "title": "% Weight Loss", "titleFontSize": 9, "titlePadding": 4, "labelFontSize": 6, "labelFontWeight": "bold", "tickSize": 2, "tickWidth": 1, "domainWidth": 1.2, "labelPadding": 1}}
              },
              "layer": [
                {"transform": [{"filter": "datum.virus == 'AND'"}], "mark": {"type": "line", "strokeWidth": 1, "color": "black"}, "encoding": {}},
                {"transform": [{"filter": "datum.virus == 'AND' && isValid(datum.lo)"}], "mark": {"type": "rule", "strokeWidth": 1, "color": "black"},
                 "encoding": {"y": {"field": "lo", "type": "quantitative", "title": "% Weight Loss", "scale": {"domain": [75, 105], "range": [152.4, 60.4], "nice": false, "zero": false}}, "y2": {"field": "hi"}}},
                {"transform": [{"filter": "datum.virus == 'AND' && isValid(datum.lo)"}], "mark": {"type": "tick", "orient": "horizontal", "size": 4, "thickness": 1, "color": "black", "opacity": 1},
                 "encoding": {"y": {"field": "lo", "type": "quantitative", "title": "% Weight Loss", "scale": {"domain": [75, 105], "range": [152.4, 60.4], "nice": false, "zero": false}}}},
                {"transform": [{"filter": "datum.virus == 'AND' && isValid(datum.lo)"}], "mark": {"type": "tick", "orient": "horizontal", "size": 4, "thickness": 1, "color": "black", "opacity": 1},
                 "encoding": {"y": {"field": "hi", "type": "quantitative", "title": "% Weight Loss", "scale": {"domain": [75, 105], "range": [152.4, 60.4], "nice": false, "zero": false}}}},
                {"transform": [{"filter": "datum.virus == 'AND'"}], "mark": {"type": "point", "shape": "square", "filled": true, "size": 5, "opacity": 1, "color": "black"}},
                {"transform": [{"filter": "datum.virus == 'LAS'"}], "mark": {"type": "line", "strokeWidth": 1, "color": "#e8141b"}, "encoding": {}},
                {"transform": [{"filter": "datum.virus == 'LAS' && isValid(datum.lo)"}], "mark": {"type": "rule", "strokeWidth": 1, "color": "#e8141b"},
                 "encoding": {"y": {"field": "lo", "type": "quantitative", "title": "% Weight Loss", "scale": {"domain": [75, 105], "range": [152.4, 60.4], "nice": false, "zero": false}}, "y2": {"field": "hi"}}},
                {"transform": [{"filter": "datum.virus == 'LAS' && isValid(datum.lo)"}], "mark": {"type": "tick", "orient": "horizontal", "size": 4, "thickness": 1, "color": "#e8141b", "opacity": 1},
                 "encoding": {"y": {"field": "lo", "type": "quantitative", "title": "% Weight Loss", "scale": {"domain": [75, 105], "range": [152.4, 60.4], "nice": false, "zero": false}}}},
                {"transform": [{"filter": "datum.virus == 'LAS' && isValid(datum.lo)"}], "mark": {"type": "tick", "orient": "horizontal", "size": 4, "thickness": 1, "color": "#e8141b", "opacity": 1},
                 "encoding": {"y": {"field": "hi", "type": "quantitative", "title": "% Weight Loss", "scale": {"domain": [75, 105], "range": [152.4, 60.4], "nice": false, "zero": false}}}},
                {"transform": [{"filter": "datum.virus == 'LAS'"}], "mark": {"type": "point", "shape": "square", "filled": true, "size": 5, "opacity": 1, "color": "#e8141b"}}
              ]
            }
          ]
        },
        {
          "vconcat": [
            {
              "width": 300, "height": 159,
              "title": {"text": "d", "offset": -6, "dx": -9},
              "data": {"name": "tD"},
              "encoding": {
                "x": {"field": "day", "type": "quantitative", "scale": {"domain": [-0.4, 44.2], "nice": false, "zero": false}, "axis": null},
                "y": {"field": "t", "type": "quantitative", "title": "Temperature [ºC]", "scale": {"domain": [37, 41], "nice": false, "zero": false}, "axis": {"values": [37, 38, 39, 40, 41], "titlePadding": 10}}
              },
              "layer": [
                {"transform": [{"filter": "datum.virus == 'AND'"}], "mark": {"type": "line", "strokeWidth": 1.5, "clip": true},
                 "encoding": {"stroke": {"field": "virus", "type": "nominal", "scale": {"domain": ["LAS", "AND"], "range": ["#e8141b", "black"]}}}},
                {"transform": [{"filter": "datum.virus == 'AND' && isValid(datum.lo)"}], "mark": {"type": "rule", "strokeWidth": 1.5, "clip": true, "color": "black"},
                 "encoding": {"y": {"field": "lo", "type": "quantitative", "title": "Temperature [ºC]", "scale": {"domain": [37, 41], "nice": false, "zero": false}}, "y2": {"field": "hi"}}},
                {"transform": [{"filter": "datum.virus == 'AND' && isValid(datum.lo) && datum.day < 15"}], "mark": {"type": "tick", "orient": "horizontal", "size": 7, "thickness": 1.5, "color": "black", "opacity": 1},
                 "encoding": {"y": {"field": "lo", "type": "quantitative", "title": "Temperature [ºC]", "scale": {"domain": [37, 41], "nice": false, "zero": false}}}},
                {"transform": [{"filter": "datum.virus == 'AND' && isValid(datum.lo)"}], "mark": {"type": "tick", "orient": "horizontal", "size": 7, "thickness": 1.5, "color": "black", "opacity": 1},
                 "encoding": {"y": {"field": "hi", "type": "quantitative", "title": "Temperature [ºC]", "scale": {"domain": [37, 41], "nice": false, "zero": false}}}},
                {"transform": [{"filter": "datum.virus == 'AND' && datum.day <= 15"}], "mark": {"type": "point", "filled": true, "size": 30, "opacity": 1},
                 "encoding": {
                   "color": {"field": "series", "type": "nominal", "scale": {"domain": ["VSVΔG/LASVGPC 365 DPV", "VSVΔG/ANDVGPC 365 DPV"], "range": ["#e8141b", "black"]}},
                   "shape": {"field": "series", "type": "nominal", "scale": {"domain": ["VSVΔG/LASVGPC 365 DPV", "VSVΔG/ANDVGPC 365 DPV"], "range": ["circle", "square"]}}}},
                {"transform": [{"filter": "datum.virus == 'LAS'"}], "mark": {"type": "line", "strokeWidth": 1.5},
                 "encoding": {"stroke": {"field": "virus", "type": "nominal", "scale": {"domain": ["LAS", "AND"], "range": ["#e8141b", "black"]},
                   "legend": {"orient": "none", "legendX": 92, "legendY": 18, "title": null, "symbolType": "stroke", "symbolSize": 144, "symbolStrokeWidth": 1.5, "labelOffset": 6, "rowPadding": 1, "labelExpr": "' '"}}}},
                {"transform": [{"filter": "datum.virus == 'LAS' && isValid(datum.lo)"}], "mark": {"type": "rule", "strokeWidth": 1.5, "color": "#e8141b"},
                 "encoding": {"y": {"field": "lo", "type": "quantitative", "title": "Temperature [ºC]", "scale": {"domain": [37, 41], "nice": false, "zero": false}}, "y2": {"field": "hi"}}},
                {"transform": [{"filter": "datum.virus == 'LAS' && isValid(datum.lo)"}], "mark": {"type": "tick", "orient": "horizontal", "size": 7, "thickness": 1.5, "color": "#e8141b", "opacity": 1},
                 "encoding": {"y": {"field": "lo", "type": "quantitative", "title": "Temperature [ºC]", "scale": {"domain": [37, 41], "nice": false, "zero": false}}}},
                {"transform": [{"filter": "datum.virus == 'LAS' && isValid(datum.lo)"}], "mark": {"type": "tick", "orient": "horizontal", "size": 7, "thickness": 1.5, "color": "#e8141b", "opacity": 1},
                 "encoding": {"y": {"field": "hi", "type": "quantitative", "title": "Temperature [ºC]", "scale": {"domain": [37, 41], "nice": false, "zero": false}}}},
                {"transform": [{"filter": "datum.virus == 'LAS'"}], "mark": {"type": "point", "filled": true, "size": 30, "opacity": 1},
                 "encoding": {
                   "color": {"field": "series", "type": "nominal", "scale": {"domain": ["VSVΔG/LASVGPC 365 DPV", "VSVΔG/ANDVGPC 365 DPV"], "range": ["#e8141b", "black"]},
                     "legend": {"orient": "none", "legendX": 95, "legendY": 18, "title": null, "symbolSize": 30, "labelOffset": 6, "rowPadding": 1}},
                   "shape": {"field": "series", "type": "nominal", "scale": {"domain": ["VSVΔG/LASVGPC 365 DPV", "VSVΔG/ANDVGPC 365 DPV"], "range": ["circle", "square"]},
                     "legend": {"orient": "none", "legendX": 95, "legendY": 18, "title": null, "symbolSize": 30, "labelOffset": 6, "rowPadding": 1}}}}
              ]
            },
            {
              "width": 300, "height": 22,
              "data": {"name": "tD"},
              "transform": [{"filter": "datum.virus == 'AND' && datum.day >= 15"}],
              "encoding": {
                "x": {"field": "day", "type": "quantitative", "scale": {"domain": [-0.4, 44.2], "nice": false, "zero": false}, "axis": {"values": [0, 5, 10, 15, 20, 25, 30, 35, 40], "title": "DPI", "titlePadding": 3}},
                "y": {"field": "t", "type": "quantitative", "scale": {"domain": [31, 37], "nice": false, "zero": false}, "axis": {"values": [31, 34, 37], "title": null, "labelFontSize": 10}}
              },
              "layer": [
                {"mark": {"type": "line", "strokeWidth": 1.5, "clip": true, "color": "black"}, "encoding": {}},
                {"transform": [{"filter": "datum.day == 15"}], "mark": {"type": "rule", "strokeWidth": 1.5, "clip": true, "color": "black"},
                 "encoding": {"y": {"field": "lo", "type": "quantitative", "title": null, "scale": {"domain": [31, 37], "nice": false, "zero": false}}, "y2": {"field": "hi"}}},
                {"transform": [{"filter": "datum.day == 15"}], "mark": {"type": "tick", "orient": "horizontal", "size": 7, "thickness": 1.5, "color": "black", "opacity": 1},
                 "encoding": {"y": {"field": "lo", "type": "quantitative", "title": null, "scale": {"domain": [31, 37], "nice": false, "zero": false}}}},
                {"transform": [{"filter": "datum.day > 15"}], "mark": {"type": "point", "shape": "square", "filled": true, "size": 30, "opacity": 1, "color": "black"}}
              ]
            }
          ],
          "spacing": 2,
          "resolve": {"scale": {"color": "independent", "shape": "independent", "stroke": "independent"}, "legend": {"color": "independent", "shape": "independent", "stroke": "independent"}}
        }
      ],
      "spacing": 24,
      "resolve": {"scale": {"color": "independent", "stroke": "independent", "shape": "independent"}, "legend": {"color": "independent", "stroke": "independent", "shape": "independent"}}
    }
  ]
}
